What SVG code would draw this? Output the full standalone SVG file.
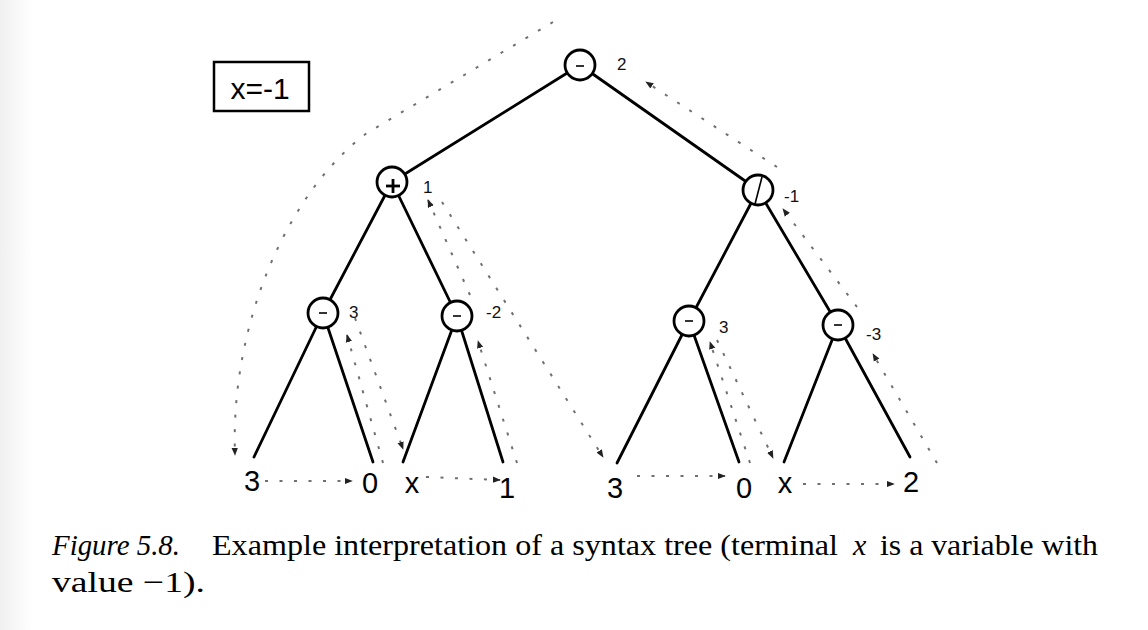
<svg xmlns="http://www.w3.org/2000/svg" width="1148" height="630" viewBox="0 0 1148 630">
<defs>
<linearGradient id="edge" x1="0" y1="0" x2="1" y2="0">
<stop offset="0" stop-color="#f0f0f0"/>
<stop offset="1" stop-color="#ffffff"/>
</linearGradient>
<marker id="ah" viewBox="0 0 10 10" refX="9" refY="5" markerWidth="8" markerHeight="8" markerUnits="userSpaceOnUse" orient="auto">
<path d="M0,1 L10,5 L0,9 z" fill="#222"/>
</marker>
<style>
.edge{stroke:#000;stroke-width:2.8;fill:none;stroke-linecap:round}
.node{fill:#fff;stroke:#000;stroke-width:2.8}
.sym{stroke:#000;fill:none}
.val{font-family:"Liberation Sans",Arial,sans-serif;font-size:17px;fill:#111}
.leaf{font-family:"Liberation Sans",Arial,sans-serif;font-size:29px;fill:#000;text-anchor:middle}
.dot{stroke:#707070;stroke-width:2;fill:none;stroke-dasharray:3 11.5;marker-end:url(#ah)}
.cap{font-family:"Liberation Serif","Times New Roman",serif;font-size:30px;fill:#000}
</style>
</defs>
<rect x="0" y="0" width="1148" height="630" fill="#fff"/>
<rect x="0" y="0" width="32" height="630" fill="url(#edge)"/>

<g id="given">
<rect x="214" y="62" width="95" height="49" fill="#fff" stroke="#000" stroke-width="2.5"/>
<text x="260" y="99" font-family="'Liberation Sans',Arial,sans-serif" font-size="30" text-anchor="middle">x=-1</text>
</g>

<g id="tree-edges">
<line class="edge" x1="580" y1="65" x2="392" y2="182"/>
<line class="edge" x1="580" y1="65" x2="758" y2="190"/>
<line class="edge" x1="392" y1="182" x2="323" y2="313"/>
<line class="edge" x1="392" y1="182" x2="457" y2="316"/>
<line class="edge" x1="758" y1="190" x2="689" y2="321"/>
<line class="edge" x1="758" y1="190" x2="838" y2="325"/>
<line class="edge" x1="323" y1="313" x2="254" y2="457"/>
<line class="edge" x1="323" y1="313" x2="373" y2="462"/>
<line class="edge" x1="457" y1="316" x2="403" y2="462"/>
<line class="edge" x1="457" y1="316" x2="503" y2="462"/>
<line class="edge" x1="689" y1="321" x2="617" y2="463"/>
<line class="edge" x1="689" y1="321" x2="739" y2="462"/>
<line class="edge" x1="838" y1="325" x2="784" y2="462"/>
<line class="edge" x1="838" y1="325" x2="910" y2="457"/>
</g>

<g id="connectors">
<path class="dot" d="M553,22 L367,133 C290,190 230,320 235,455"/>
<path class="dot" d="M265,481 L352,481"/>
<path class="dot" d="M426,477 L500,480"/>
<path class="dot" d="M383,463 L347,335"/>
<path class="dot" d="M355,318 L403,449"/>
<path class="dot" d="M517,463 L478,341"/>
<path class="dot" d="M470,295 L428,200"/>
<path class="dot" d="M442,202 L603,457"/>
<path class="dot" d="M637,476 L725,476"/>
<path class="dot" d="M750,463 L710,342"/>
<path class="dot" d="M717,340 L773,458"/>
<path class="dot" d="M803,484 L894,484"/>
<path class="dot" d="M937,463 L873,354"/>
<path class="dot" d="M857,307 L783,209"/>
<path class="dot" d="M777,167 L646,82"/>
</g>

<g id="n-root">
<circle class="node" cx="580" cy="65" r="15"/>
<line class="sym" x1="576" y1="66" x2="584" y2="66" stroke-width="1.6"/>
<text class="val" x="617" y="70">2</text>
</g>
<g id="n-plus">
<circle class="node" cx="392" cy="182" r="15"/>
<line class="sym" x1="386" y1="186" x2="400" y2="186" stroke-width="2.8"/>
<line class="sym" x1="393" y1="179" x2="393" y2="193" stroke-width="2.8"/>
<text class="val" x="423" y="193">1</text>
</g>
<g id="n-div">
<circle class="node" cx="758" cy="190" r="15"/>
<line class="sym" x1="762" y1="177" x2="755" y2="204" stroke-width="1.6"/>
<text class="val" x="784" y="202">-1</text>
</g>
<g id="n-sub1">
<circle class="node" cx="323" cy="313" r="15"/>
<line class="sym" x1="319" y1="313" x2="327" y2="313" stroke-width="1.6"/>
<text class="val" x="349" y="318">3</text>
</g>
<g id="n-sub2">
<circle class="node" cx="457" cy="316" r="15"/>
<line class="sym" x1="453" y1="316" x2="461" y2="316" stroke-width="1.6"/>
<text class="val" x="486" y="318">-2</text>
</g>
<g id="n-sub3">
<circle class="node" cx="689" cy="321" r="15"/>
<line class="sym" x1="685" y1="321" x2="693" y2="321" stroke-width="1.6"/>
<text class="val" x="719" y="333">3</text>
</g>
<g id="n-sub4">
<circle class="node" cx="838" cy="325" r="15"/>
<line class="sym" x1="834" y1="325" x2="842" y2="325" stroke-width="1.6"/>
<text class="val" x="866" y="340">-3</text>
</g>

<g id="leaf-3a"><text class="leaf" x="252" y="491">3</text></g>
<g id="leaf-0a"><text class="leaf" x="370" y="493">0</text></g>
<g id="leaf-xa"><text class="leaf" x="412" y="493">x</text></g>
<g id="leaf-1a"><text class="leaf" x="507" y="498">1</text></g>
<g id="leaf-3b"><text class="leaf" x="615" y="498">3</text></g>
<g id="leaf-0b"><text class="leaf" x="744" y="498">0</text></g>
<g id="leaf-xb"><text class="leaf" x="785" y="493">x</text></g>
<g id="leaf-2b"><text class="leaf" x="911" y="492">2</text></g>

<g id="caption">
<text class="cap" x="52" y="555" font-style="italic" textLength="128" lengthAdjust="spacingAndGlyphs">Figure 5.8.</text>
<text class="cap" x="212" y="555" textLength="626" lengthAdjust="spacingAndGlyphs">Example interpretation of a syntax tree (terminal</text>
<text class="cap" x="853" y="555" font-style="italic">x</text>
<text class="cap" x="880" y="555" textLength="218" lengthAdjust="spacingAndGlyphs">is a variable with</text>
<text class="cap" x="52" y="592" textLength="153" lengthAdjust="spacingAndGlyphs">value −1).</text>
</g>
</svg>
